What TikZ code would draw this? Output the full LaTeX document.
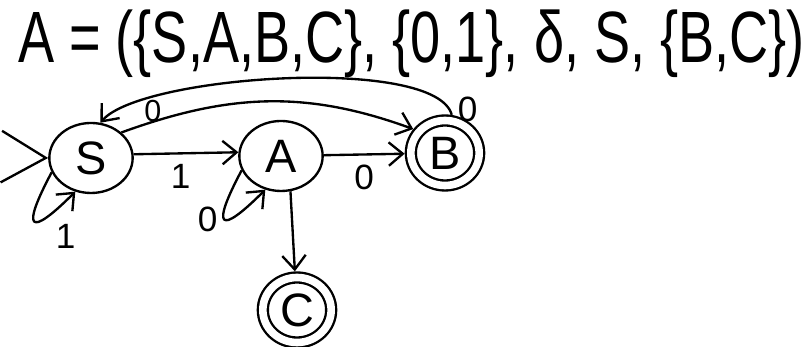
\documentclass[tikz,border=0pt]{standalone}
\usepackage{fontspec}
\usepackage{graphicx}
\setmainfont{Liberation Sans}
\usetikzlibrary{arrows.meta,shapes.geometric}
\begin{document}
\begin{tikzpicture}[x=0.03cm, y=0.03cm, line width=2pt,
  >={Straight Barb[length=12pt,width=20pt]},
  every node/.style={font=\fontsize{40}{46}\selectfont},
  state/.style={draw, ellipse, minimum width=2.5cm, minimum height=2.1cm, inner sep=0pt},
  accept/.style={draw, ellipse, double, double distance=6.5pt, minimum width=2.05cm, minimum height=1.95cm, inner sep=0pt, outer sep=5.3pt},
  lbl/.style={font=\fontsize{30}{34}\selectfont, inner sep=2pt}]
  \useasboundingbox (0,0) rectangle (806,347);
  % tuple
  \node[anchor=base west] (title) at (13,284) {\resizebox{23.6cm}{1.58cm}{A = (\{S,A,B,C\}, \{0,1\}, δ, S, \{B,C\})}};
  % states
  \node[state] (S) at (91,189) {S};
  \node[state] (A) at (281,191) {A};
  \node[accept] (B) at (445,194) {B};
  \node[accept] (C) at (297,37) {C};
  % start arrow
  \coordinate (start) at (-20,191);
  \draw[-{Straight Barb[length=38pt,width=44pt]}, shorten <=55pt] (start) -- (S.west);
  % transitions
  \draw[->] (S.5) -- node[lbl, below=6pt, pos=0.45] (l1) {1} (A.175);
  \draw[->] (A) -- node[lbl, below=6pt] (l2) {0} (B);
  \draw[->] (A.285) -- (C);
  \draw[->] (S.40) to[out=20, in=160] node[lbl, pos=0.1, above=-3pt, font=\fontsize{26}{30}\selectfont] (l3) {0} (B.143);
  \draw[->] (B.80) to[out=105, in=50, looseness=0.45] node[lbl, pos=0.03, right=4pt] (l4) {0} (S.75);
  \draw[->] (S.200) to[out=242, in=225, looseness=5.5] node[lbl, pos=0.75, below right=4pt] (l5) {1} (S.245);
  \draw[->] (A.200) to[out=242, in=225, looseness=5.5] node[lbl, pos=0.5, left=3pt] (l6) {0} (A.245);
\end{tikzpicture}
\end{document}
